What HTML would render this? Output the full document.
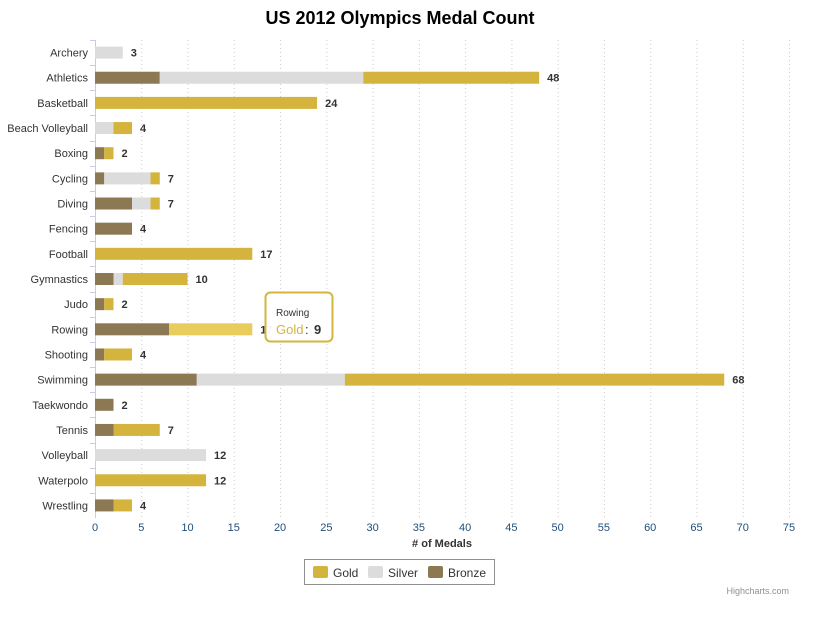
<!DOCTYPE html>
<html><head><meta charset="utf-8">
<style>
body{margin:0;background:#fff;font-family:"Liberation Sans",Arial,sans-serif;}
svg text{font-family:"Liberation Sans",Arial,sans-serif;}
</style></head>
<body>
<svg id="chart" width="830" height="624" xmlns="http://www.w3.org/2000/svg">
<rect width="830" height="624" fill="#fff"/>
<text x="400" y="24" text-anchor="middle" font-size="18" font-weight="bold" fill="#000">US 2012 Olympics Medal Count</text>
<g id="grid"></g>
<g id="bars"></g>
<g id="labels"></g>
<text x="442" y="547" text-anchor="middle" font-size="11" font-weight="bold" fill="#333"># of Medals</text>
<g>
<rect x="304.5" y="559.5" width="190" height="25" fill="#fff" stroke="#909090"/>
<g><rect x="313" y="566" width="15" height="12" rx="2" fill="#D4B43C"/><text x="333" y="577" font-size="12" fill="#333">Gold</text></g>
<g><rect x="368" y="566" width="15" height="12" rx="2" fill="#DCDCDC"/><text x="388" y="577" font-size="12" fill="#333">Silver</text></g>
<g><rect x="428" y="566" width="15" height="12" rx="2" fill="#8C7853"/><text x="448" y="577" font-size="12" fill="#333">Bronze</text></g>
</g>
<text x="789" y="594" text-anchor="end" font-size="9" fill="#909090">Highcharts.com</text>
<g id="tooltip"></g>
</svg>
<script>
const categories=["Archery","Athletics","Basketball","Beach Volleyball","Boxing","Cycling","Diving","Fencing","Football","Gymnastics","Judo","Rowing","Shooting","Swimming","Taekwondo","Tennis","Volleyball","Waterpolo","Wrestling"];
const bronze=[0,7,0,0,1,1,4,4,0,2,1,8,1,11,2,2,0,0,2];
const silver=[3,22,0,2,0,5,2,0,0,1,0,0,0,16,0,0,12,0,0];
const gold=[0,19,24,2,1,1,1,0,17,7,1,9,3,41,0,5,0,12,2];
const xTicks=[0,5,10,15,20,25,30,35,40,45,50,55,60,65,70,75];
const NS="http://www.w3.org/2000/svg";
const x0=95,x1=789,plotTop=40,plotBottom=518;
const xs=v=>x0+(x1-x0)*v/75;
const step=(plotBottom-plotTop)/categories.length;
const yc=i=>plotTop+step*(i+0.5);
function mk(t,a,p){const e=document.createElementNS(NS,t);for(const k in a)e.setAttribute(k,a[k]);p.appendChild(e);return e;}
const grid=document.getElementById('grid'),bars=document.getElementById('bars'),labels=document.getElementById('labels');
xTicks.forEach(v=>{
  if(v>0){const l=mk('line',{x1:xs(v)+.5,x2:xs(v)+.5,y1:plotTop,y2:plotBottom,stroke:'#ccc','stroke-dasharray':'1,3'},grid);
  
  }
  const t=mk('text',{x:xs(v),y:plotBottom+13,'text-anchor':'middle','font-size':11,fill:'#1f4e79'},labels);t.textContent=v;
  
  
});
const ax=mk('line',{x1:x0+.5,x2:x0+.5,y1:plotTop,y2:plotBottom,stroke:'#C0D0E0'},grid);


categories.forEach((c,i)=>{
  const y=yc(i);
  const tk=mk('line',{x1:x0-5,x2:x0,y1:Math.round(plotTop+step*i)+.5,y2:Math.round(plotTop+step*i)+.5,stroke:'#C0D0E0'},grid);
  
  
  const t=mk('text',{x:x0-7,y:y+4,'text-anchor':'end','font-size':11,fill:'#333'},labels);t.textContent=c;
  
  
  let acc=0;
  [[bronze,'#8C7853','bronze'],[silver,'#DCDCDC','silver'],[gold,'#D4B43C','gold']].forEach(([arr,col,nm])=>{
    const v=arr[i];if(!v)return;
    let fill=col;if(c==='Rowing'&&nm==='gold')fill='#E8CC5C';
    const r=mk('rect',{x:xs(acc),y:y-6,width:xs(acc+v)-xs(acc),height:12,fill:fill},bars);
    
    
    acc+=v;
  });
  const tot=bronze[i]+silver[i]+gold[i];
  const tl=mk('text',{x:xs(tot)+8,y:y+4,'font-size':11,'font-weight':'bold',fill:'#333'},labels);tl.textContent=tot;
  
  
});
const tt=document.getElementById('tooltip');
mk('rect',{x:265.5,y:292.5,width:67,height:49,rx:5,fill:'rgba(255,255,255,0.95)',stroke:'#D4B43C','stroke-width':2},tt);
const t1=mk('text',{x:276,y:316,'font-size':10,fill:'#333'},tt);t1.textContent='Rowing';
const t2=mk('text',{x:276,y:334,'font-size':13,fill:'#D4B43C'},tt);t2.textContent='Gold';
const t3=mk('text',{x:305,y:334,'font-size':13,fill:'#333'},tt);t3.textContent=': ';
const t4=mk('text',{x:314,y:334,'font-size':13,'font-weight':'bold',fill:'#333'},tt);t4.textContent=gold[11];
</script>
</body></html>
